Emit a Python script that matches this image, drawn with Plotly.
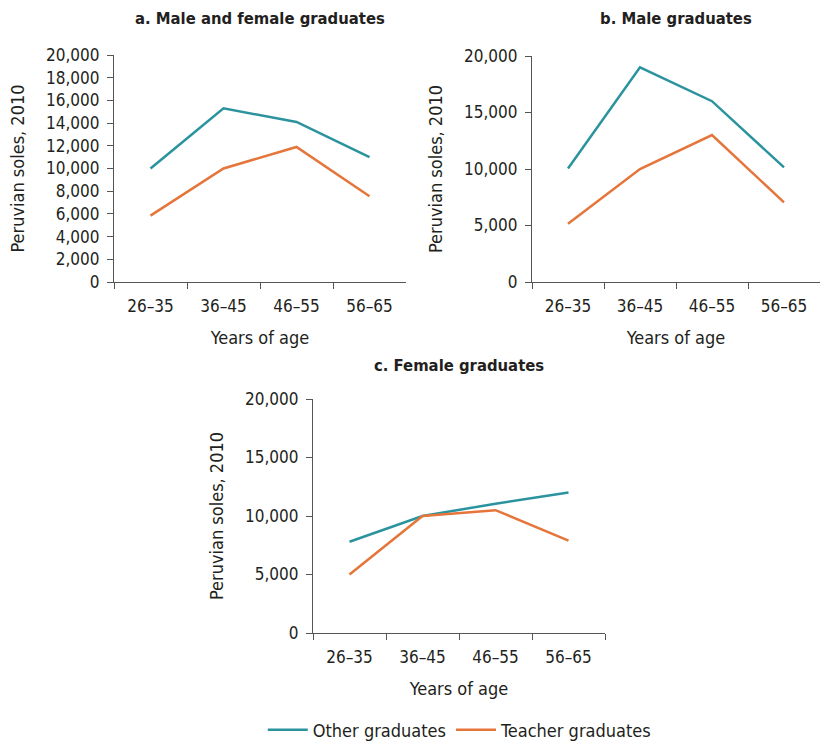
import plotly.graph_objects as go

ages = ["26–35", "36–45", "46–55", "56–65"]

# panel a: male and female graduates
all_other = [10000, 15300, 14100, 11000]
all_teacher = [5850, 10000, 11900, 7550]
# panel b: male graduates
male_other = [10050, 19000, 16000, 10150]
male_teacher = [5150, 10000, 13000, 7050]
# panel c: female graduates
fem_other = [7800, 10000, 11050, 12000]
fem_teacher = [5000, 10000, 10500, 7900]

TEAL = "#2a939e"
ORANGE = "#e5753a"
INK = "#231f20"
AXIS = "#555555"
FONT = "DejaVu Sans Condensed, Liberation Sans Narrow, Arial Narrow, sans-serif"
W, H = 821, 741

panels = [
    # (title, other, teacher, x-domain px, y-domain px (top, bottom), dtick, title y px)
    ("a. Male and female graduates", all_other, all_teacher, (114, 406), (55, 282), 2000, 18),
    ("b. Male graduates", male_other, male_teacher, (532, 820), (56, 282), 5000, 18),
    ("c. Female graduates", fem_other, fem_teacher, (313, 605), (399, 633), 5000, 365),
]

fig = go.Figure()
layout = {}
for n, (title, other, teacher, xd, yd, dt, ty) in enumerate(panels, start=1):
    sfx = "" if n == 1 else str(n)
    xa, ya = "x" + sfx, "y" + sfx
    fig.add_trace(go.Scatter(x=ages, y=other, mode="lines", name="Other graduates",
                             line=dict(color=TEAL, width=2.5), xaxis=xa, yaxis=ya,
                             showlegend=(n == 1)))
    fig.add_trace(go.Scatter(x=ages, y=teacher, mode="lines", name="Teacher graduates",
                             line=dict(color=ORANGE, width=2.5), xaxis=xa, yaxis=ya,
                             showlegend=(n == 1)))
    layout["xaxis" + sfx] = dict(
        domain=[xd[0] / W, xd[1] / W], anchor=ya, type="category",
        range=[-0.5, 3.5], tickson="boundaries", ticks="outside", ticklen=6,
        tickcolor=AXIS, showline=True, linecolor=AXIS, linewidth=1.2,
        showgrid=False, automargin=False, ticklabelstandoff=8,
        tickfont=dict(size=17, color=INK),
        title=dict(text="Years of age", font=dict(size=18, color=INK), standoff=16))
    layout["yaxis" + sfx] = dict(
        domain=[1 - yd[1] / H, 1 - yd[0] / H], anchor=xa, range=[0, 20000],
        dtick=dt, tickformat=",", ticks="outside", ticklen=6, tickcolor=AXIS,
        showline=True, linecolor=AXIS, linewidth=1.2, showgrid=False, zeroline=False,
        automargin=False, ticklabelstandoff=4, tickfont=dict(size=17, color=INK),
        title=dict(text="Peruvian soles, 2010", font=dict(size=18, color=INK), standoff=16))
    fig.add_annotation(text=f"<b>{title}</b>", xref="paper", yref="paper",
                       x=(xd[0] + xd[1]) / 2 / W, y=1 - ty / H,
                       xanchor="center", yanchor="middle", showarrow=False,
                       font=dict(size=16.5, color=INK))

fig.update_layout(
    **layout,
    width=W, height=H, margin=dict(l=0, r=0, t=0, b=0, autoexpand=False),
    paper_bgcolor="white", plot_bgcolor="white",
    font=dict(family=FONT, color=INK),
    legend=dict(orientation="h", x=0.56, y=1 - 730 / H, xanchor="center",
                yanchor="middle", font=dict(size=18, color=INK), itemwidth=40),
)

fig.write_html("out.html", config={"displayModeBar": False},
               post_script="document.body.style.margin='0px';")
